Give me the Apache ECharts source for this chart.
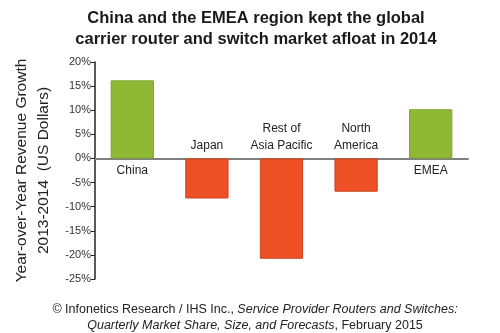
<!DOCTYPE html>
<html>
<head>
<meta charset="utf-8">
<script src="https://cdn.jsdelivr.net/npm/echarts@6/dist/echarts.min.js"></script>
<style>html,body{margin:0;padding:0;background:#fff}#c{width:500px;height:333px}</style>
</head>
<body>
<div id="c"></div>
<script>
const categories = ['China', 'Japan', 'Rest of\nAsia Pacific', 'North\nAmerica', 'EMEA'];
const growth = [16.2, -8.3, -20.8, -6.9, 10.2];
const yTicks = { min: -25, max: 20, interval: 5 };

const chart = echarts.init(document.getElementById('c'), null, { renderer: 'canvas' });
const data = growth.map((v, i) => ({
  value: v,
  itemStyle: {
    color: v >= 0 ? '#8FB935' : '#EE5126',
    borderColor: v >= 0 ? '#7FA62C' : '#C9431F',
    borderWidth: 1
  },
  label: { position: v >= 0 ? 'bottom' : 'top' }
}));
chart.setOption({
  animation: false,
  title: [{
    text: 'China and the EMEA region kept the global\ncarrier router and switch market afloat in 2014',
    left: 251, top: 3, textAlign: 'center',
    textStyle: { fontFamily: 'Liberation Sans, Arial', fontSize: 16.5, fontWeight: 'bold', color: '#1a1a1a', lineHeight: 21 }
  }, {
    text: '{n|\u00A9 Infonetics Research / IHS Inc., }{i|Service Provider Routers and Switches:}\n{i|Quarterly Market Share, Size, and Forecasts}{n|, February 2015}',
    left: 250, top: 297, textAlign: 'center',
    textStyle: {
      fontWeight: 'normal',
      rich: {
        n: { fontFamily: 'Liberation Sans, Arial', fontSize: 12.5, fontWeight: 'normal', color: '#222', lineHeight: 16 },
        i: { fontFamily: 'Liberation Sans, Arial', fontSize: 12.5, fontWeight: 'normal', fontStyle: 'italic', color: '#222', lineHeight: 16 }
      }
    }
  }],
  grid: { left: 95, right: 32, top: 62, height: 217 },
  xAxis: {
    type: 'category', data: categories,
    axisLine: { onZero: true, lineStyle: { color: '#808080', width: 2 } },
    axisTick: { show: false },
    axisLabel: { show: false }
  },
  yAxis: {
    type: 'value', min: yTicks.min, max: yTicks.max, interval: yTicks.interval,
    name: 'Year-over-Year Revenue Growth\n2013-2014  (US Dollars)',
    nameLocation: 'middle', nameGap: 40,
    nameTextStyle: { fontFamily: 'Liberation Sans, Arial', fontSize: 15.5, color: '#222', lineHeight: 22 },
    axisLine: { show: true, lineStyle: { color: '#222', width: 1.5 } },
    axisTick: { show: true, length: 4, lineStyle: { color: '#222' } },
    axisLabel: { formatter: v => v + '%', fontFamily: 'Liberation Sans, Arial', fontSize: 11, color: '#333', margin: 4 },
    splitLine: { show: false }
  },
  series: [{
    type: 'bar', data: data, barWidth: '58%',
    label: {
      show: true,
      formatter: p => categories[p.dataIndex],
      fontFamily: 'Liberation Sans, Arial', fontSize: 12, color: '#222', lineHeight: 17, distance: 4
    }
  }]
});
</script>
</body>
</html>
